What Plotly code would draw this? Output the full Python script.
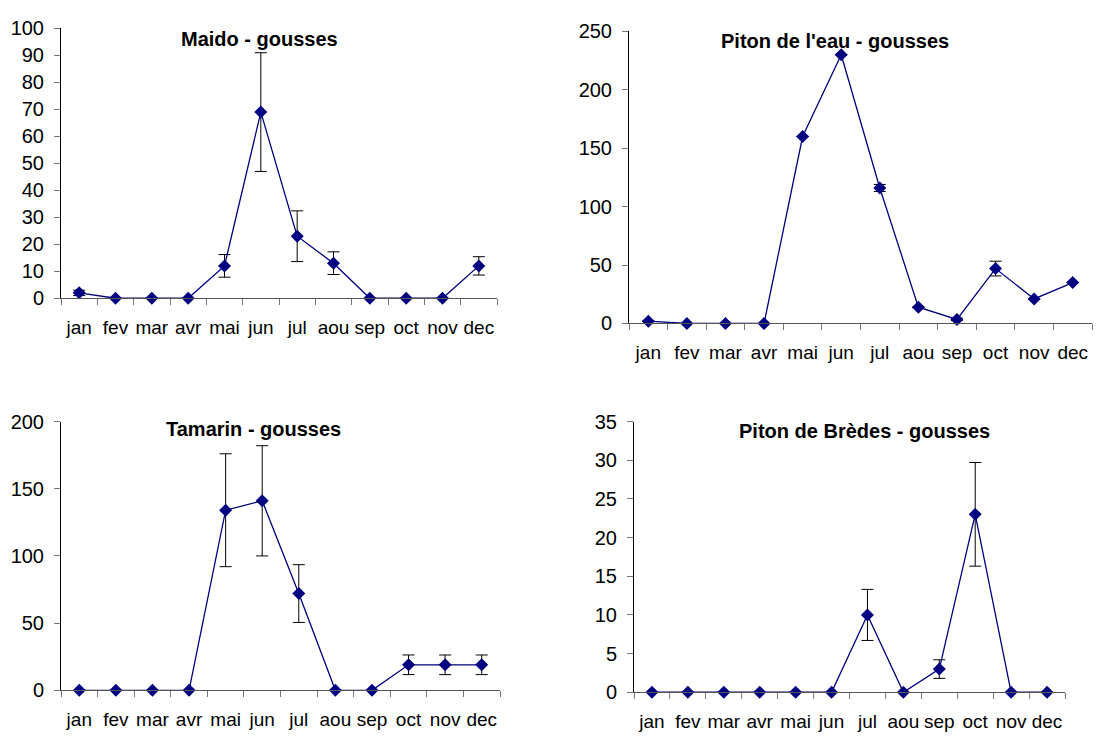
import plotly.graph_objects as go

months = ["jan", "fev", "mar", "avr", "mai", "jun", "jul", "aou", "sep", "oct", "nov", "dec"]

# Mean pod counts per month and their error margins, one pair per site
maido = [2, 0, 0, 0, 12, 69, 23, 13, 0, 0, 0, 12]
maido_err = [1, 0, 0, 0, 4.2, 22, 9.4, 4.2, 0, 0, 0, 3.4]

piton_eau = [2, 0, 0, 0, 160, 230, 116, 14, 3.5, 47, 21, 35]
piton_eau_err = [0, 0, 0, 0, 0, 0, 3, 0, 1, 6.3, 0, 0]

tamarin = [0, 0, 0, 0, 134, 141, 72, 0, 0, 19, 19, 19]
tamarin_err = [0, 0, 0, 0, 42, 41, 21.5, 0, 0, 7.3, 7.3, 7.3]

bredes = [0, 0, 0, 0, 0, 0, 10, 0, 3, 23, 0, 0]
bredes_err = [0, 0, 0, 0, 0, 0, 3.3, 0, 1.2, 6.7, 0, 0]

titles = ["Maido - gousses", "Piton de l'eau - gousses",
          "Tamarin - gousses", "Piton de Brèdes - gousses"]
y_max = [100, 250, 200, 35]
y_step = [10, 50, 50, 5]

W, H = 1116, 745
# plot-area boxes in pixels: left, right, top, bottom
boxes = [(61, 497, 18, 296), (629, 1092, 21, 322),
         (61, 500, 423, 700), (634, 1065, 423, 702)]
title_pos = [(259, 29), (835, 31), (253, 431), (864, 433)]

series = [(maido, maido_err), (piton_eau, piton_eau_err),
          (tamarin, tamarin_err), (bredes, bredes_err)]

FONT = "Liberation Sans, Arial, sans-serif"
NAVY = "#000080"

fig = go.Figure()
for i, ((vals, errs), box) in enumerate(zip(series, boxes)):
    n = "" if i == 0 else str(i + 1)
    fig.add_trace(go.Scatter(
        x=months, y=vals, xaxis="x" + n, yaxis="y" + n,
        mode="lines+markers",
        line=dict(color=NAVY, width=1.3),
        marker=dict(symbol="diamond", size=10, color=NAVY),
        error_y=dict(type="data", array=errs, visible=True,
                     color="#000000", thickness=1, width=6),
        cliponaxis=False, showlegend=False, hoverinfo="x+y",
    ))
    l, r, t, b = box
    fig.layout["xaxis" + n] = dict(
        domain=[l / W, r / W], anchor="y" + n,
        type="category", range=[-0.5, 11.5],
        tickson="boundaries", ticks="outside", ticklen=6,
        tickcolor="#777777", tickwidth=1, tickangle=0,
        showline=True, linecolor="#555555", linewidth=1,
        showgrid=False, zeroline=False,
        tickfont=dict(family=FONT, size=19, color="#000000"),
        ticklabelstandoff=12, fixedrange=True,
    )
    fig.layout["yaxis" + n] = dict(
        domain=[1 - b / H, 1 - t / H], anchor="x" + n,
        range=[0, y_max[i]], dtick=y_step[i], tick0=0,
        ticks="outside", ticklen=6, tickcolor="#777777", tickwidth=1,
        showline=True, linecolor="#000000", linewidth=1,
        showgrid=False, zeroline=False,
        tickfont=dict(family=FONT, size=20, color="#000000"),
        ticklabelstandoff=6, fixedrange=True,
    )

for title, (cx, cy) in zip(titles, title_pos):
    fig.add_annotation(
        text="<b>" + title + "</b>", x=cx / W, y=1 - cy / H,
        xref="paper", yref="paper", xanchor="center", yanchor="middle",
        showarrow=False, font=dict(family=FONT, size=20, color="#000000"),
    )

fig.update_layout(
    width=W, height=H, margin=dict(l=0, r=0, t=0, b=0),
    paper_bgcolor="#ffffff", plot_bgcolor="#ffffff",
)

fig.write_html("out.html", config={"displayModeBar": False})
